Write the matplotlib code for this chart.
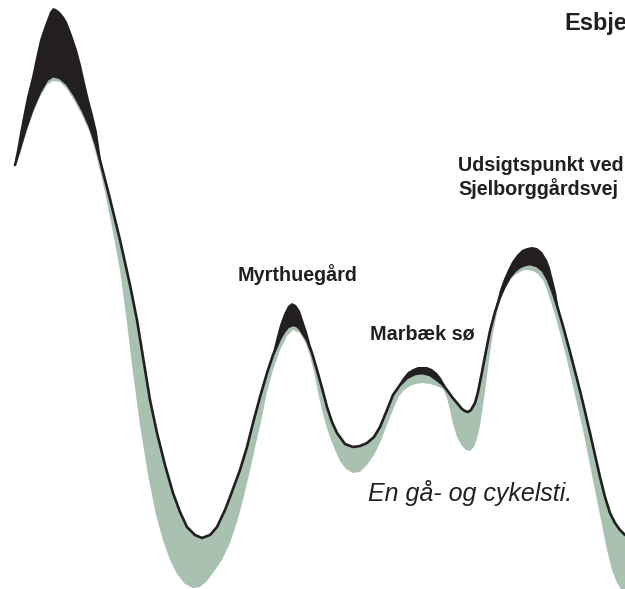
import numpy as np
import matplotlib
matplotlib.use("Agg")
import matplotlib.pyplot as plt

# route profile (distance along route, drawn height)
line_x = [15, 20, 26, 33, 40, 47, 53, 60, 67, 75, 83, 90, 96, 102, 110, 120, 130, 137,
          143, 150, 157, 165, 173, 180, 187, 195, 202, 210, 217, 225, 230, 240, 247, 253,
          260, 267, 273, 280, 284, 288, 293, 297, 300, 307, 312, 317, 322, 327, 332, 337,
          345, 353, 360, 367, 374, 380, 387, 393, 400, 407, 415, 422, 430, 437, 442, 447,
          452, 457, 462, 465, 468, 471, 475, 478, 482, 486, 490, 495, 500, 505, 510, 515,
          520, 525, 530, 537, 543, 548, 553, 558, 563, 570, 577, 583, 590, 595, 600, 605,
          610, 615, 620, 625]
line_y = [165, 148, 128, 108, 92, 80, 76, 78, 84, 96, 111, 127, 145, 168, 199, 240, 285, 320,
          357, 400, 433, 465, 493, 512, 527, 535, 538, 535, 527, 510, 497, 470, 447, 423,
          397, 373, 355, 339, 332, 327, 325, 326, 329, 340, 353, 370, 388, 407, 422, 433,
          444, 447, 446, 443, 437, 427, 410, 395, 385, 378, 374, 373, 375, 380, 384, 390,
          397, 403, 409, 411, 412, 410, 403, 392, 372, 351, 331, 312, 297, 286, 277, 271,
          267, 265, 264, 266, 271, 280, 293, 309, 326, 352, 379, 403, 433, 455, 477, 497,
          513, 523, 530, 535]

# lower (green) envelope
low_x = [14, 20, 26, 33, 40, 47, 53, 60, 67, 75, 83, 90, 97, 105, 113, 120, 126, 132, 140,
         148, 156, 163, 170, 177, 185, 193, 200, 207, 213, 222, 230, 237, 243, 249, 255, 261,
         267, 273, 280, 287, 293, 300, 306, 310, 314, 318, 322, 326, 330, 335, 340, 346, 353,
         360, 367, 374, 380, 387, 393, 398, 403, 410, 416, 422, 430, 437, 443, 447, 450, 453,
         457, 462, 466, 470, 474, 477, 480, 483, 486, 489, 493, 497, 500, 505, 510, 515, 520,
         524, 528, 533, 538, 543, 547, 551, 555, 560, 567, 575, 583, 590, 597, 603, 607, 612,
         617, 621, 625]
low_y = [168, 154, 134, 113, 97, 85, 81, 82, 89, 102, 117, 133, 158, 192, 232, 270, 315, 365,
         425, 475, 515, 540, 560, 574, 584, 588, 587, 581, 573, 560, 543, 522, 500, 475, 448,
         422, 392, 370, 350, 336, 330, 333, 344, 356, 372, 392, 410, 425, 437, 450, 461, 469,
         473, 472, 465, 455, 443, 425, 410, 398, 391, 386, 384, 383, 384, 386, 389, 398, 410,
         424, 437, 446, 450, 451, 447, 439, 426, 406, 384, 360, 333, 313, 302, 289, 280, 275,
         272, 270, 270, 271, 274, 280, 290, 302, 315, 333, 360, 395, 430, 465, 500, 530, 550,
         570, 583, 589, 589]

# upper (black) envelope at the four summits
peak1_x = [15, 17, 20, 23, 27, 32, 36, 40, 44, 47, 50, 53, 56, 60, 64, 67, 72, 77, 81, 85,
           89, 93, 97, 101]
peak1_y = [160, 150, 133, 117, 97, 77, 58, 40, 28, 20, 12, 8, 9, 12, 17, 22, 35, 50, 65, 83,
           100, 115, 132, 160]
peak2_x = [272, 276, 280, 284, 288, 292, 296, 300, 303, 307, 310, 314]
peak2_y = [357, 340, 325, 314, 306, 303, 305, 311, 320, 332, 343, 358]
peak3_x = [398, 403, 408, 413, 418, 422, 427, 432, 437, 441, 445, 448]
peak3_y = [386, 378, 372, 369, 367, 367, 367, 369, 373, 378, 385, 392]
peak4_x = [496, 500, 504, 508, 512, 517, 522, 527, 532, 537, 542, 547, 550, 553, 556, 560]
peak4_y = [306, 290, 279, 270, 262, 255, 250, 248, 247, 248, 252, 260, 268, 280, 292, 316]

labels = ["Myrthuegård", "Marbæk sø", "Udsigtspunkt ved\nSjelborggårdsvej"]
label_pos = [(238, 281), (370, 340), (458, 195)]

green = "#a9c1b1"
ink = "#231f20"

fig = plt.figure(figsize=(6.25, 5.89), dpi=100)
ax = fig.add_axes([0, 0, 1, 1])
ax.set_xlim(0, 625)
ax.set_ylim(589, 0)
ax.axis("off")

lx = np.array(line_x)
ly = np.array(line_y)

# green band: lower envelope to the line
ax.fill(np.concatenate([low_x, lx[::-1]]), np.concatenate([low_y, ly[::-1]]),
        color=green, lw=0)

# black bands: summit envelopes to the line
for px, py in [(peak1_x, peak1_y), (peak2_x, peak2_y), (peak3_x, peak3_y), (peak4_x, peak4_y)]:
    m = (lx >= px[0]) & (lx <= px[-1])
    ax.fill(np.concatenate([px, lx[m][::-1]]), np.concatenate([py, ly[m][::-1]]),
            color=ink, lw=0)

ax.plot(lx, ly, color=ink, lw=1.9, solid_capstyle="round", solid_joinstyle="round")

for t, (x, y) in zip(labels, label_pos):
    ax.text(x, y, t, fontsize=14.2, fontfamily="Liberation Sans", fontweight="bold",
            color=ink, ha="left", va="baseline", linespacing=1.15)

# the town name runs off the right edge, as in the original
ax.text(564, 30, "Esbjerg", fontsize=17, fontfamily="Liberation Sans", fontweight="bold",
        color=ink, ha="left", va="baseline")
ax.text(368, 501, "En gå- og cykelsti.", fontsize=18, fontfamily="Liberation Sans",
        fontstyle="italic", color=ink, ha="left", va="baseline")

fig.savefig("out.png", dpi=100)
